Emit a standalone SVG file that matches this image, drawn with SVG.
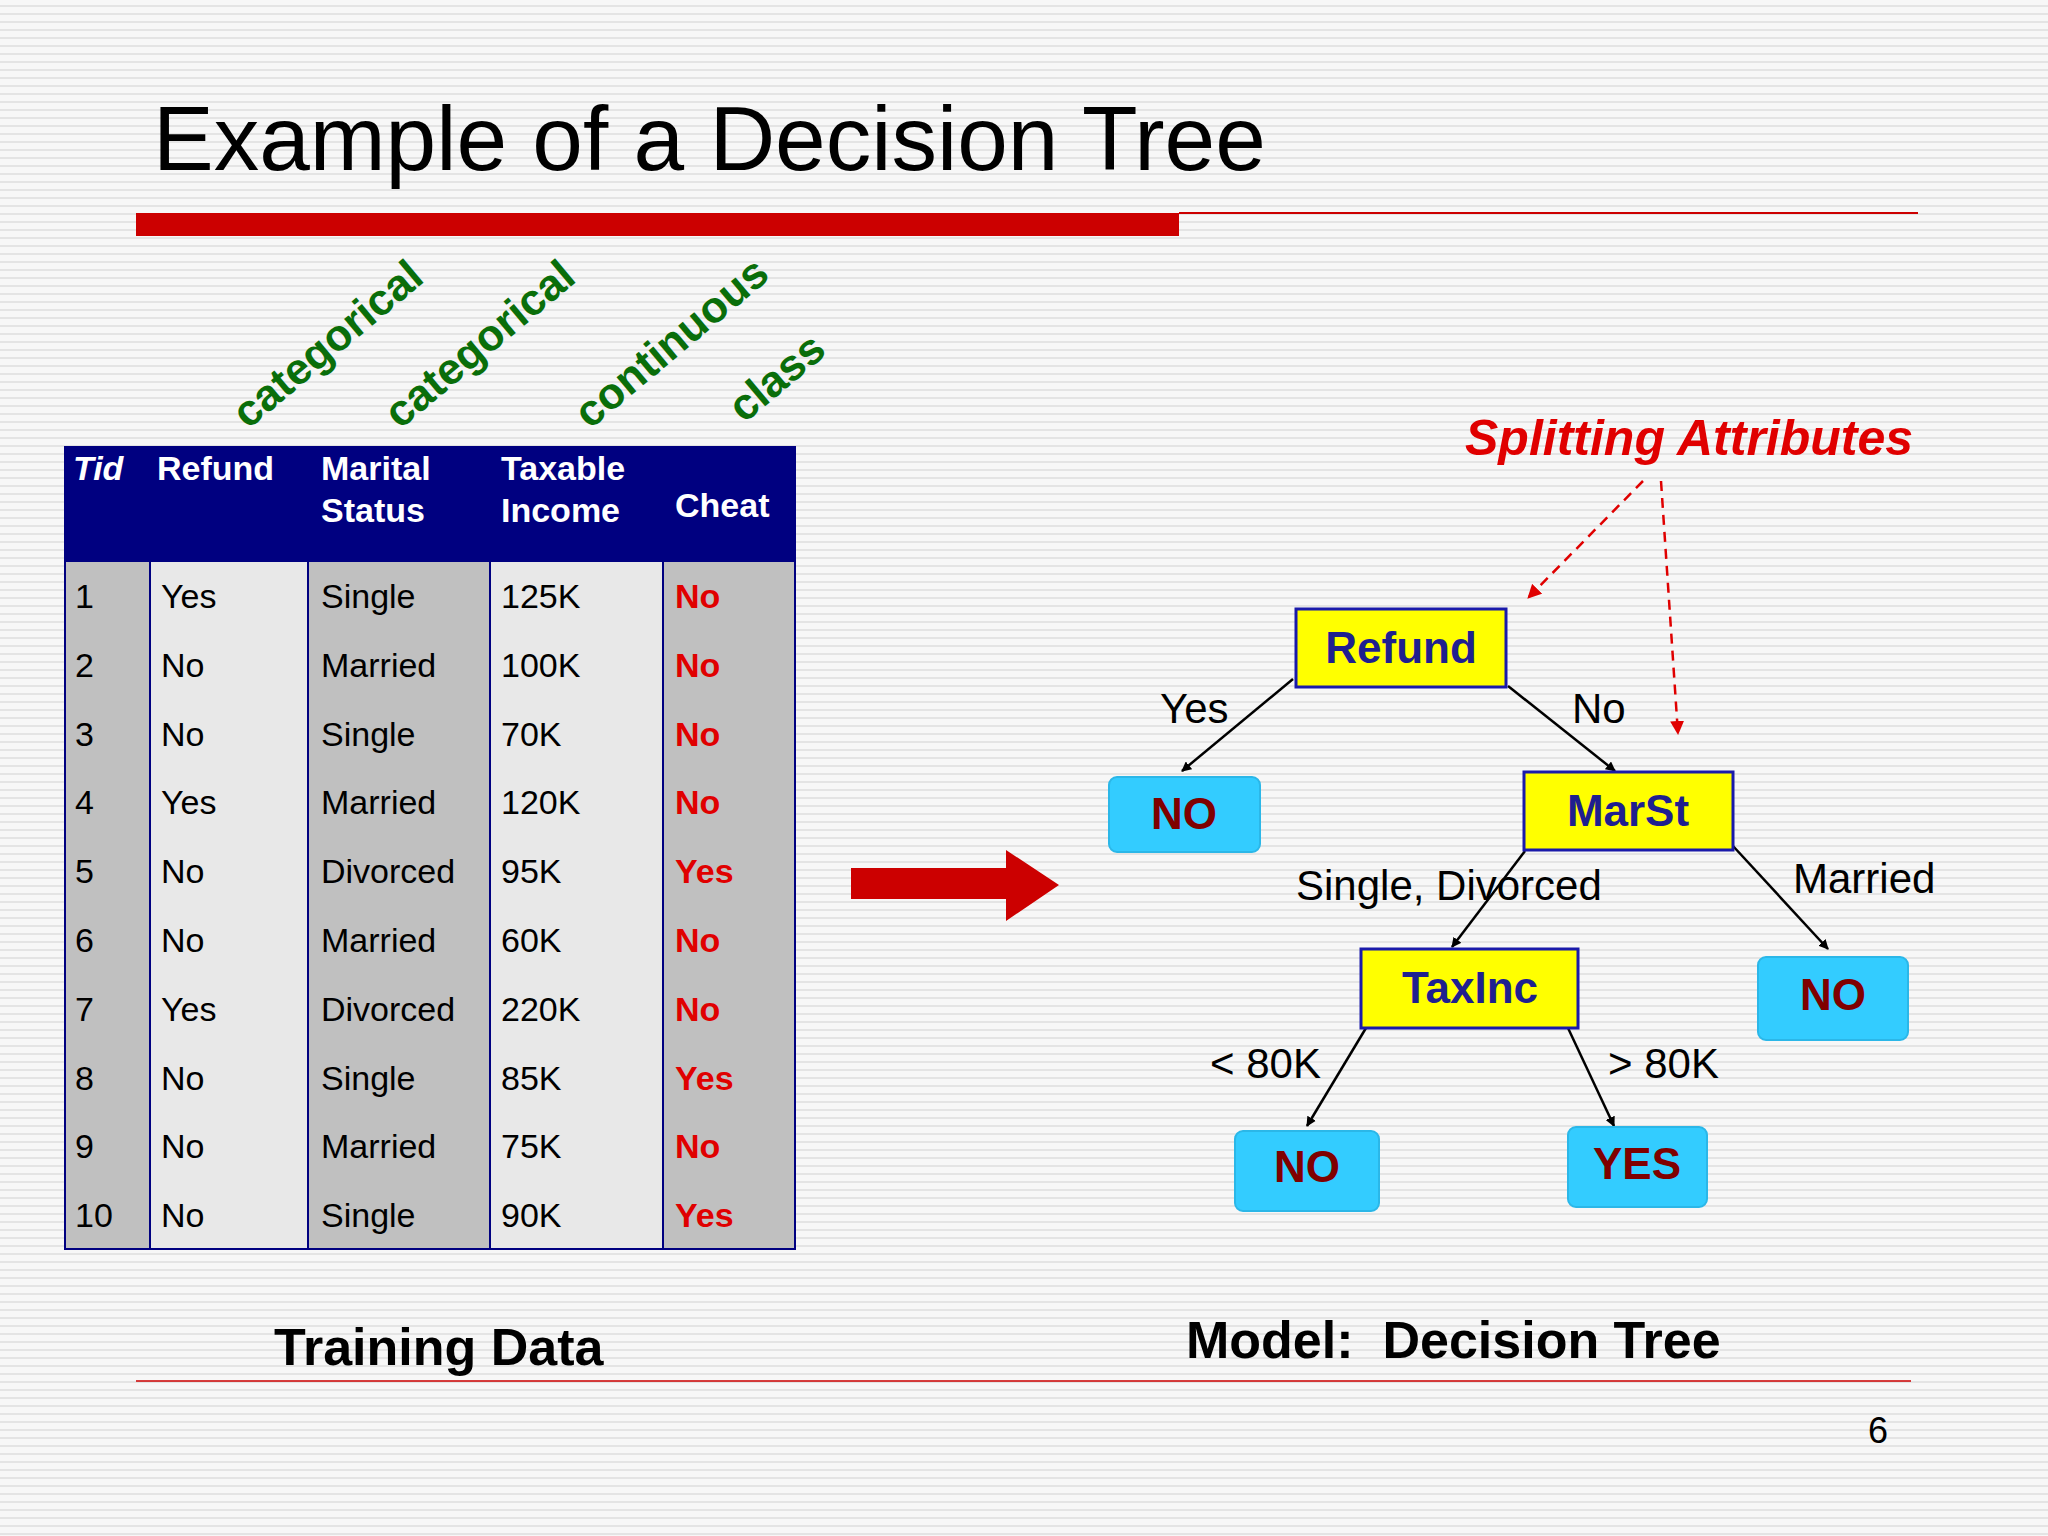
<svg xmlns="http://www.w3.org/2000/svg" width="2048" height="1536" viewBox="0 0 2048 1536">
<defs>
<pattern id="stripes" width="8" height="8" patternUnits="userSpaceOnUse"><rect width="8" height="8" fill="#f7f7f7"/><rect y="5" width="8" height="2" fill="#e4e4e4"/></pattern>
<marker id="ah" markerWidth="10" markerHeight="10" refX="9" refY="5" orient="auto" markerUnits="userSpaceOnUse" viewBox="0 0 10 10"><path d="M0,0 L10,5 L0,10 z" fill="#000"/></marker>
<marker id="rh" markerWidth="14" markerHeight="14" refX="13" refY="7" orient="auto" markerUnits="userSpaceOnUse" viewBox="0 0 14 14"><path d="M0,0 L14,7 L0,14 z" fill="#e00000"/></marker>
</defs>
<style>
text{font-family:"Liberation Sans",Arial,sans-serif}
.h{fill:#fff;font-weight:bold;font-size:34px}
.c{font-size:34px;fill:#000}
.r{font-size:34px;fill:#e00000;font-weight:bold}
.g{fill:#0a6e0a;font-weight:bold;font-size:44px}
.yn{fill:#ffff00;stroke:#1a1aaa;stroke-width:3}
.bn{fill:#33ccff;stroke:#2bb7e8;stroke-width:2}
.yt{font-size:44px;font-weight:bold;fill:#1f1f8f;text-anchor:middle}
.bt{font-size:44px;font-weight:bold;fill:#800000;text-anchor:middle}
.e{stroke:#000;stroke-width:2.5;fill:none;marker-end:url(#ah)}
.el{font-size:42px;fill:#000}
</style>
<rect width="2048" height="1536" fill="url(#stripes)"/>
<text x="153" y="170" font-size="91" fill="#000">Example of a Decision Tree</text>
<rect x="136" y="213" width="1043" height="23" fill="#cc0000"/>
<line x1="1179" y1="213" x2="1918" y2="213" stroke="#cc0000" stroke-width="2"/>
<g id="labels">
<text class="g" transform="translate(248,430) rotate(-40)">categorical</text>
<text class="g" transform="translate(400,430) rotate(-40)">categorical</text>
<text class="g" transform="translate(590,430) rotate(-40)">continuous</text>
<text class="g" transform="translate(744,424) rotate(-40)">class</text>
</g>
<g id="table">
<rect x="65" y="447" width="730" height="802" fill="#c0c0c0"/>
<rect x="150" y="562" width="158" height="687" fill="#e8e8e8"/>
<rect x="490" y="562" width="173" height="687" fill="#e8e8e8"/>
<rect x="65" y="447" width="730" height="115" fill="#000080"/>
<g stroke="#000080" stroke-width="2"><line x1="150" y1="562" x2="150" y2="1249"/><line x1="308" y1="562" x2="308" y2="1249"/><line x1="490" y1="562" x2="490" y2="1249"/><line x1="663" y1="562" x2="663" y2="1249"/></g>
<rect x="65" y="447" width="730" height="802" fill="none" stroke="#000080" stroke-width="2"/>
<text class="h" x="73" y="480" font-weight="normal" font-style="italic">Tid</text>
<text class="h" x="157" y="480">Refund</text>
<text class="h" x="321" y="480">Marital</text><text class="h" x="321" y="522">Status</text>
<text class="h" x="501" y="480">Taxable</text><text class="h" x="501" y="522">Income</text>
<text class="h" x="675" y="517">Cheat</text>
<g class="c">
<text x="75" y="608">1</text><text x="161" y="608">Yes</text><text x="321" y="608">Single</text><text x="501" y="608">125K</text>
<text x="75" y="677">2</text><text x="161" y="677">No</text><text x="321" y="677">Married</text><text x="501" y="677">100K</text>
<text x="75" y="746">3</text><text x="161" y="746">No</text><text x="321" y="746">Single</text><text x="501" y="746">70K</text>
<text x="75" y="814">4</text><text x="161" y="814">Yes</text><text x="321" y="814">Married</text><text x="501" y="814">120K</text>
<text x="75" y="883">5</text><text x="161" y="883">No</text><text x="321" y="883">Divorced</text><text x="501" y="883">95K</text>
<text x="75" y="952">6</text><text x="161" y="952">No</text><text x="321" y="952">Married</text><text x="501" y="952">60K</text>
<text x="75" y="1021">7</text><text x="161" y="1021">Yes</text><text x="321" y="1021">Divorced</text><text x="501" y="1021">220K</text>
<text x="75" y="1090">8</text><text x="161" y="1090">No</text><text x="321" y="1090">Single</text><text x="501" y="1090">85K</text>
<text x="75" y="1158">9</text><text x="161" y="1158">No</text><text x="321" y="1158">Married</text><text x="501" y="1158">75K</text>
<text x="75" y="1227">10</text><text x="161" y="1227">No</text><text x="321" y="1227">Single</text><text x="501" y="1227">90K</text>
</g>
<g class="r">
<text x="675" y="608">No</text><text x="675" y="677">No</text><text x="675" y="746">No</text><text x="675" y="814">No</text><text x="675" y="883">Yes</text><text x="675" y="952">No</text><text x="675" y="1021">No</text><text x="675" y="1090">Yes</text><text x="675" y="1158">No</text><text x="675" y="1227">Yes</text>
</g>
</g>
<path id="bigarrow" d="M851,868 L1006,868 L1006,850 L1059,885 L1006,921 L1006,899 L851,899 z" fill="#cc0000"/>
<g id="connectors">
<line class="e" x1="1293" y1="679" x2="1182" y2="771"/>
<line class="e" x1="1508" y1="686" x2="1615" y2="771"/>
<line class="e" x1="1525" y1="851" x2="1452" y2="947"/>
<line class="e" x1="1733" y1="846" x2="1828" y2="949"/>
<line class="e" x1="1366" y1="1028" x2="1307" y2="1126"/>
<line class="e" x1="1568" y1="1028" x2="1614" y2="1126"/>
<g stroke="#e00000" stroke-width="2.5" stroke-dasharray="10,7" fill="none" marker-end="url(#rh)">
<line x1="1643" y1="481" x2="1528" y2="598"/>
<line x1="1661" y1="481" x2="1678" y2="734"/>
</g>
<text class="el" x="1160" y="723">Yes</text>
<text class="el" x="1572" y="723">No</text>
<text class="el" x="1296" y="900">Single, Divorced</text>
<text class="el" x="1793" y="893">Married</text>
<text class="el" x="1210" y="1078">&lt; 80K</text>
<text class="el" x="1608" y="1078">&gt; 80K</text>
</g>
<g id="n-refund"><rect class="yn" x="1296" y="609" width="210" height="78"/><text class="yt" x="1401" y="663">Refund</text></g>
<g id="n-no1"><rect class="bn" x="1109" y="777" width="151" height="75" rx="8"/><text class="bt" x="1184" y="829">NO</text></g>
<g id="n-marst"><rect class="yn" x="1524" y="772" width="209" height="78"/><text class="yt" x="1628" y="826">MarSt</text></g>
<g id="n-taxinc"><rect class="yn" x="1361" y="949" width="217" height="79"/><text class="yt" x="1470" y="1003">TaxInc</text></g>
<g id="n-no2"><rect class="bn" x="1758" y="957" width="150" height="83" rx="8"/><text class="bt" x="1833" y="1010">NO</text></g>
<g id="n-no3"><rect class="bn" x="1235" y="1131" width="144" height="80" rx="8"/><text class="bt" x="1307" y="1182">NO</text></g>
<g id="n-yes"><rect class="bn" x="1568" y="1127" width="139" height="80" rx="8"/><text class="bt" x="1637" y="1179">YES</text></g>
<text x="1465" y="455" font-size="50" font-weight="bold" font-style="italic" fill="#e00000">Splitting Attributes</text>
<text x="274" y="1365" font-size="52" font-weight="bold" fill="#000">Training Data</text>
<text x="1186" y="1358" font-size="52" font-weight="bold" fill="#000" xml:space="preserve">Model:  Decision Tree</text>
<line x1="136" y1="1381" x2="1911" y2="1381" stroke="#cc0000" stroke-width="1.5"/>
<text x="1868" y="1443" font-size="36" fill="#000">6</text>
</svg>
